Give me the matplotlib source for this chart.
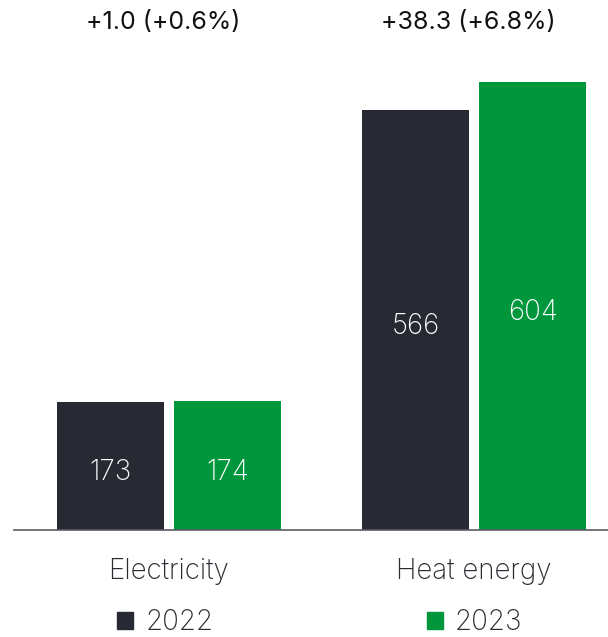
import matplotlib
matplotlib.use("Agg")
import matplotlib.pyplot as plt
from matplotlib.patches import Patch

categories = ["Electricity", "Heat energy"]
years = ["2022", "2023"]
values_2022 = [173, 566]
values_2023 = [174, 604]
changes = ["+1.0 (+0.6%)", "+38.3 (+6.8%)"]

DARK = "#272a33"
GREEN = "#00963c"
TEXT = "#2a2c33"

plt.rcParams["font.family"] = ["Inter", "DejaVu Sans"]

W, H = 608, 637
fig = plt.figure(figsize=(W / 100, H / 100), dpi=100)
ax = fig.add_axes([14 / W, 107 / H, 1 - 14 / W, 1 - 107 / H])

x = list(range(len(categories)))
width = 0.351
off = 0.192
b1 = ax.bar([i - off for i in x], values_2022, width, color=DARK, zorder=2)
b2 = ax.bar([i + off for i in x], values_2023, width, color=GREEN, zorder=2)

for bars, vals in ((b1, values_2022), (b2, values_2023)):
    for rect, v in zip(bars, vals):
        ax.annotate(f"{v}", (rect.get_x() + rect.get_width() / 2, v / 2),
                    xytext=(0, -5), textcoords="offset points",
                    ha="center", va="center", color="white",
                    fontsize=20, fontweight="light")

ax.set_xlim(-0.508, 1.439)
ax.set_ylim(0, 714)

for s in ("top", "right", "left"):
    ax.spines[s].set_visible(False)
ax.spines["bottom"].set_color("#5a5c63")
ax.spines["bottom"].set_linewidth(1.2)
ax.set_yticks([])
ax.set_xticks(x)
ax.set_xticklabels(categories, fontsize=20, fontweight="light", color=TEXT)
ax.tick_params(axis="x", length=0, pad=20)

for i, txt in enumerate(changes):
    xf = (169 + 305 * i - 6) / W
    fig.text(xf, 1 - 22 / H, txt, ha="center", va="center",
             fontsize=18, fontweight="normal", color="#111111")

handles = [Patch(color=DARK), Patch(color=GREEN)]
fig.legend(handles, years, loc="center", bbox_to_anchor=(320 / W, 14 / H),
           ncol=2, frameon=False, columnspacing=7.7,
           handlelength=0.55, handleheight=0.55, handletextpad=0.45,
           labelcolor=TEXT, prop={"weight": "light", "size": 20})

fig.savefig("out.png", dpi=100)
